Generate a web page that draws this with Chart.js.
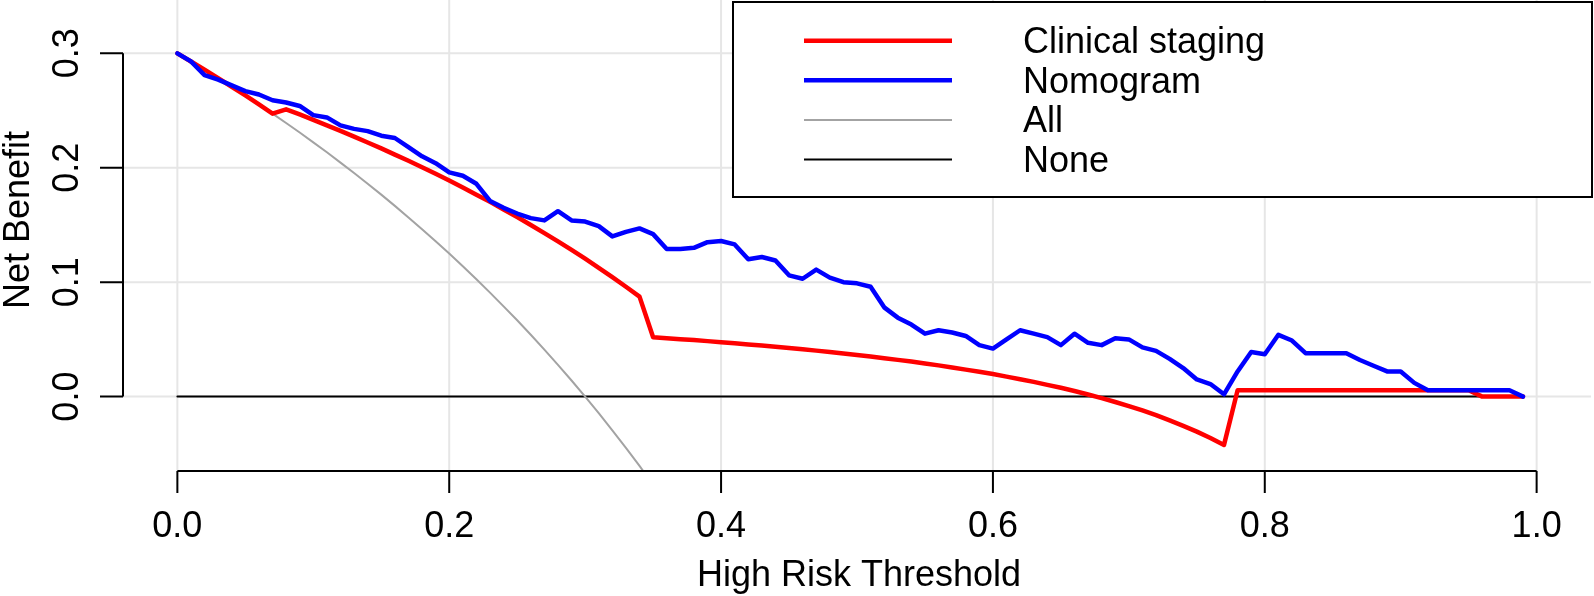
<!DOCTYPE html>
<html>
<head>
<meta charset="utf-8">
<script src="https://cdn.jsdelivr.net/npm/chart.js@4/dist/chart.umd.min.js"></script>
<style>
  html, body { margin: 0; padding: 0; background: #fff; }
  canvas { display: block; }
</style>
</head>
<body>
<canvas id="dca" width="1594" height="596"></canvas>
<script>
// thresholds used by the decision curve
const thresholds = [
  0.00, 0.01, 0.02, 0.03, 0.04, 0.05, 0.06, 0.07, 0.08, 0.09,
  0.10, 0.11, 0.12, 0.13, 0.14, 0.15, 0.16, 0.17, 0.18, 0.19,
  0.20, 0.21, 0.22, 0.23, 0.24, 0.25, 0.26, 0.27, 0.28, 0.29,
  0.30, 0.31, 0.32, 0.33, 0.34, 0.35, 0.36, 0.37, 0.38, 0.39,
  0.40, 0.41, 0.42, 0.43, 0.44, 0.45, 0.46, 0.47, 0.48, 0.49,
  0.50, 0.51, 0.52, 0.53, 0.54, 0.55, 0.56, 0.57, 0.58, 0.59,
  0.60, 0.61, 0.62, 0.63, 0.64, 0.65, 0.66, 0.67, 0.68, 0.69,
  0.70, 0.71, 0.72, 0.73, 0.74, 0.75, 0.76, 0.77, 0.78, 0.79,
  0.80, 0.81, 0.82, 0.83, 0.84, 0.85, 0.86, 0.87, 0.88, 0.89,
  0.90, 0.91, 0.92, 0.93, 0.94, 0.95, 0.96, 0.97, 0.98, 0.99
];

const clinicalStaging = [
  0.3000, 0.2929, 0.2857, 0.2784, 0.2708, 0.2632, 0.2553, 0.2473, 0.2511, 0.2466,
  0.2419, 0.2371, 0.2322, 0.2272, 0.2221, 0.2169, 0.2115, 0.2061, 0.2004, 0.1947,
  0.1888, 0.1827, 0.1765, 0.1702, 0.1636, 0.1569, 0.1500, 0.1429, 0.1357, 0.1282,
  0.1205, 0.1126, 0.1044, 0.0960, 0.0874, 0.0519, 0.0511, 0.0502, 0.0494, 0.0485,
  0.0476, 0.0466, 0.0456, 0.0446, 0.0436, 0.0425, 0.0414, 0.0402, 0.0390, 0.0377,
  0.0364, 0.0350, 0.0336, 0.0321, 0.0306, 0.0290, 0.0273, 0.0255, 0.0236, 0.0217,
  0.0197, 0.0175, 0.0152, 0.0129, 0.0103, 0.0077, 0.0049, 0.0019, -0.0013, -0.0047,
  -0.0083, -0.0121, -0.0162, -0.0207, -0.0255, -0.0306, -0.0362, -0.0422, 0.0055, 0.0055,
  0.0055, 0.0055, 0.0055, 0.0055, 0.0055, 0.0055, 0.0055, 0.0055, 0.0055, 0.0055,
  0.0055, 0.0055, 0.0055, 0.0055, 0.0055, 0.0055, 0.0000, 0.0000, 0.0000, 0.0000
];

const nomogram = [
  0.300, 0.293, 0.281, 0.277, 0.272, 0.267, 0.264, 0.259, 0.257, 0.254,
  0.246, 0.244, 0.237, 0.234, 0.232, 0.228, 0.226, 0.218, 0.210, 0.204,
  0.196, 0.193, 0.186, 0.171, 0.165, 0.160, 0.156, 0.154, 0.162, 0.154,
  0.153, 0.149, 0.140, 0.144, 0.147, 0.142, 0.129, 0.129, 0.130, 0.135,
  0.136, 0.133, 0.120, 0.122, 0.119, 0.106, 0.103, 0.111, 0.104, 0.100,
  0.099, 0.096, 0.078, 0.069, 0.063, 0.055, 0.058, 0.056, 0.053, 0.045,
  0.042, 0.050, 0.058, 0.055, 0.052, 0.045, 0.055, 0.047, 0.045, 0.051,
  0.050, 0.043, 0.040, 0.033, 0.025, 0.015, 0.011, 0.002, 0.022, 0.039,
  0.037, 0.054, 0.049, 0.038, 0.038, 0.038, 0.038, 0.032, 0.027, 0.022,
  0.022, 0.012, 0.0055, 0.0055, 0.0055, 0.0055, 0.0055, 0.0055, 0.0055, 0.000
];

// treat-all curve, read until it leaves the plot at the bottom
const treatAll = [
  0.3000, 0.2929, 0.2857, 0.2784, 0.2708, 0.2632, 0.2553, 0.2473, 0.2391, 0.2308,
  0.2222, 0.2135, 0.2045, 0.1954, 0.1860, 0.1765, 0.1667, 0.1566, 0.1463, 0.1358,
  0.1250, 0.1139, 0.1026, 0.0909, 0.0789, 0.0667, 0.0541, 0.0411, 0.0278, 0.0141,
  0.0000, -0.0145, -0.0294, -0.0448, -0.0606, -0.0769
];

const noneX = [0, 0.99];
const noneY = [0, 0];

const xTicks = [0, 0.2, 0.4, 0.6, 0.8, 1.0];
const xTickLabels = ['0.0', '0.2', '0.4', '0.6', '0.8', '1.0'];
const yTicks = [0, 0.1, 0.2, 0.3];
const yTickLabels = ['0.0', '0.1', '0.2', '0.3'];

const legendLabels = ['Clinical staging', 'Nomogram', 'All', 'None'];
const legendColors = ['#ff0000', '#0000ff', '#a3a3a3', '#000000'];
const legendWidths = [4.5, 4.5, 2, 2];

const FONT = '36px "Liberation Sans", Arial, Helvetica, sans-serif';

const pts = (xs, ys) => ys.map((v, i) => ({ x: xs[i], y: v }));

// R style axes, grid and legend
const rStyle = {
  id: 'rStyle',
  beforeDatasetsDraw(chart) {
    const { ctx, chartArea: a, scales: { x, y } } = chart;
    ctx.save();
    ctx.strokeStyle = '#e6e6e6';
    ctx.lineWidth = 2;
    ctx.beginPath();
    xTicks.forEach(v => {
      const px = x.getPixelForValue(v);
      ctx.moveTo(px, a.top);
      ctx.lineTo(px, a.bottom);
    });
    yTicks.forEach(v => {
      const py = y.getPixelForValue(v);
      ctx.moveTo(a.left, py);
      ctx.lineTo(a.right, py);
    });
    ctx.stroke();
    ctx.restore();
  },
  afterDraw(chart) {
    const { ctx, chartArea: a, scales: { x, y } } = chart;
    ctx.save();
    ctx.strokeStyle = '#000';
    ctx.fillStyle = '#000';
    ctx.lineWidth = 2;
    ctx.lineCap = 'butt';
    ctx.font = FONT;

    // x axis
    const x0 = x.getPixelForValue(xTicks[0]);
    const x1 = x.getPixelForValue(xTicks[xTicks.length - 1]);
    ctx.beginPath();
    ctx.moveTo(x0, a.bottom);
    ctx.lineTo(x1, a.bottom);
    xTicks.forEach(v => {
      const px = x.getPixelForValue(v);
      ctx.moveTo(px, a.bottom);
      ctx.lineTo(px, a.bottom + 22);
    });
    ctx.stroke();
    ctx.textAlign = 'center';
    ctx.textBaseline = 'alphabetic';
    xTicks.forEach((v, i) => ctx.fillText(xTickLabels[i], x.getPixelForValue(v), 537));
    ctx.fillText('High Risk Threshold', (a.left + a.right) / 2 + 2, 586);

    // y axis
    const y0 = y.getPixelForValue(yTicks[0]);
    const y1 = y.getPixelForValue(yTicks[yTicks.length - 1]);
    ctx.beginPath();
    ctx.moveTo(a.left, y0);
    ctx.lineTo(a.left, y1);
    yTicks.forEach(v => {
      const py = y.getPixelForValue(v);
      ctx.moveTo(a.left, py);
      ctx.lineTo(a.left - 23, py);
    });
    ctx.stroke();
    yTicks.forEach((v, i) => {
      ctx.save();
      ctx.translate(78, y.getPixelForValue(v));
      ctx.rotate(-Math.PI / 2);
      ctx.fillText(yTickLabels[i], 0, 0);
      ctx.restore();
    });
    ctx.save();
    ctx.translate(29, 220);
    ctx.rotate(-Math.PI / 2);
    ctx.fillText('Net Benefit', 0, 0);
    ctx.restore();

    // legend box
    ctx.fillStyle = '#fff';
    ctx.fillRect(733, 2, 859, 195);
    ctx.strokeRect(733, 2, 859, 195);
    ctx.textAlign = 'left';
    legendLabels.forEach((lab, i) => {
      const ly = 40.7 + i * 39.6;
      ctx.strokeStyle = legendColors[i];
      ctx.lineWidth = legendWidths[i];
      ctx.beginPath();
      ctx.moveTo(804, ly);
      ctx.lineTo(952, ly);
      ctx.stroke();
      ctx.fillStyle = '#000';
      ctx.fillText(lab, 1023, ly + 12.5);
    });
    ctx.restore();
  }
};

const lineStyle = {
  pointRadius: 0,
  tension: 0,
  fill: false,
  borderCapStyle: 'round',
  borderJoinStyle: 'round'
};

new Chart(document.getElementById('dca'), {
  type: 'line',
  data: {
    datasets: [
      { label: legendLabels[1], data: pts(thresholds, nomogram), borderColor: legendColors[1], borderWidth: 4.5, order: 0, ...lineStyle },
      { label: legendLabels[0], data: pts(thresholds, clinicalStaging), borderColor: legendColors[0], borderWidth: 4.5, order: 1, ...lineStyle },
      { label: legendLabels[2], data: pts(thresholds, treatAll), borderColor: legendColors[2], borderWidth: 2, order: 2, ...lineStyle },
      { label: legendLabels[3], data: pts(noneX, noneY), borderColor: legendColors[3], borderWidth: 2, order: 3, ...lineStyle }
    ]
  },
  options: {
    responsive: false,
    animation: false,
    events: [],
    layout: { padding: { left: 123, right: 3, top: 0, bottom: 125 } },
    scales: {
      x: { type: 'linear', min: -0.04, max: 1.04, display: false },
      y: { type: 'linear', min: -0.065, max: 0.3466, display: false }
    },
    plugins: {
      legend: { display: false },
      tooltip: { enabled: false }
    }
  },
  plugins: [rStyle]
});
</script>
</body>
</html>
